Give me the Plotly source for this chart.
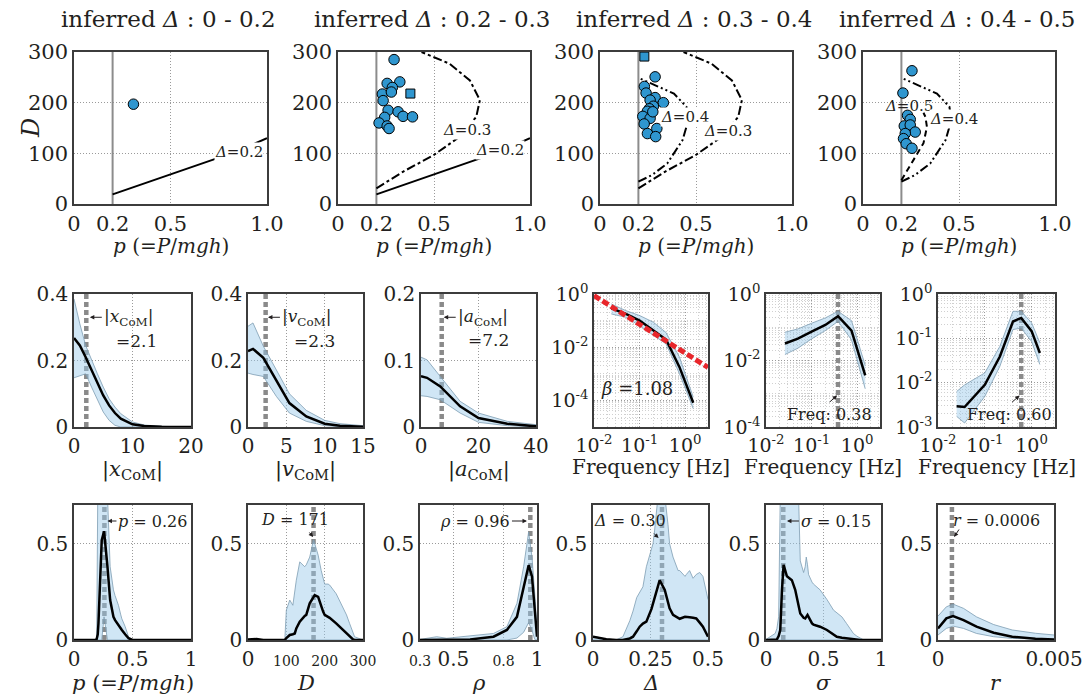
import plotly.graph_objects as go

W, H = 1088, 697
FONT = "DejaVu Serif"
TXT = "#231f20"
FRAME = "#3c3c3c"
GRID = "#9a9a9a"
BLUE = "#2f96cf"
BAND_FILL = "rgba(150,200,232,0.45)"
BAND_LINE = "#7d9db3"
DASHC = "#8a8a8a"

# ---------------- Row 1 data: p vs D scatter per inferred Delta range ----------------
titles = ["0 - 0.2", "0.2 - 0.3", "0.3 - 0.4", "0.4 - 0.5"]
p_min_line = 0.2
s1_p = [0.308]
s1_D = [197]
s2_p = [0.292, 0.256, 0.322, 0.283, 0.231, 0.278, 0.235, 0.261, 0.313, 0.339, 0.388, 0.243, 0.214, 0.256, 0.266]
s2_D = [285, 238, 241, 230, 217, 221, 204, 185, 182, 173, 172, 171, 160, 154, 149]
s2_sq_p = [0.377]
s2_sq_D = [218]
s3_p = [0.287, 0.231, 0.24, 0.287, 0.261, 0.33, 0.278, 0.257, 0.247, 0.223, 0.261, 0.23, 0.296, 0.247, 0.29, 0.275]
s3_D = [251, 232, 219, 210, 205, 200, 193, 188, 183, 173, 169, 158, 149, 139, 133, 182]
s3_sq_p = [0.231]
s3_sq_D = [291]
s4_p = [0.255, 0.208, 0.232, 0.246, 0.215, 0.246, 0.272, 0.22, 0.211, 0.225, 0.255]
s4_D = [263, 219, 175, 167, 154, 156, 142, 139, 129, 119, 110]

# theoretical contours
c02_p = [0.2, 0.3, 0.4, 0.5, 0.6, 0.7, 0.8, 0.9, 1.0]
c02_D = [19, 32, 45, 58, 71, 84, 98, 113, 130]
c03_p = [0.2, 0.34, 0.496, 0.635, 0.72, 0.739, 0.687, 0.58, 0.435]
c03_D = [31, 64, 96, 133, 172, 205, 244, 277, 300]
c04_p = [0.2, 0.27, 0.35, 0.43, 0.46, 0.45, 0.385, 0.3, 0.2]
c04_D = [44, 57, 80, 126, 165, 192, 218, 232, 249]
c05_p = [0.2, 0.263, 0.315, 0.333, 0.325, 0.315]
c05_D = [47, 87, 120, 152, 172, 180]

# ---------------- Row 2 data ----------------
xc_x = [0, 1, 2, 3, 4, 5, 6, 7, 8, 10, 12, 15, 20]
xc_mean = [0.268, 0.245, 0.21, 0.17, 0.13, 0.095, 0.065, 0.042, 0.025, 0.008, 0.003, 0.001, 0]
xc_up = [0.385, 0.31, 0.245, 0.2, 0.16, 0.12, 0.085, 0.06, 0.04, 0.015, 0.006, 0.002, 0]
xc_lo = [0.148, 0.155, 0.16, 0.12, 0.08, 0.045, 0.02, 0.005, 0, 0, 0, 0, 0]
xc_med = 2.1

vc_x = [0, 0.65, 2, 3.7, 5.4, 7.6, 10, 12, 15]
vc_mean = [0.228, 0.235, 0.208, 0.142, 0.072, 0.032, 0.01, 0.004, 0.001]
vc_up = [0.303, 0.313, 0.243, 0.17, 0.1, 0.05, 0.02, 0.01, 0.004]
vc_lo = [0.162, 0.158, 0.152, 0.092, 0.042, 0.017, 0.004, 0.001, 0]
vc_med = 2.3

ac_x = [0, 2.1, 6.7, 13.6, 20, 30, 40]
ac_mean = [0.0762, 0.074, 0.061, 0.031, 0.0135, 0.005, 0.001]
ac_up = [0.105, 0.101, 0.076, 0.0386, 0.021, 0.0085, 0.0035]
ac_lo = [0.047, 0.046, 0.041, 0.021, 0.007, 0.002, 0]
ac_med = 7.2

f1_x = [0.024, 0.05, 0.1, 0.2, 0.38, 0.75, 1.5]
f1_mean = [0.288, 0.178, 0.1, 0.0422, 0.0195, 0.00178, 0.0000813]
f1_up = [0.422, 0.237, 0.155, 0.0871, 0.0355, 0.00422, 0.000133]
f1_lo = [0.178, 0.133, 0.0646, 0.0275, 0.0133, 0.001, 0.000049]
beta = 1.08
fit_x = [0.01, 3.16]
fit_y0 = 0.87

f2_x = [0.026, 0.05, 0.1, 0.2, 0.38, 0.75, 1.5]
f2_mean = [0.0324, 0.0457, 0.0741, 0.117, 0.214, 0.0794, 0.00355]
f2_up = [0.0708, 0.0891, 0.132, 0.191, 0.302, 0.158, 0.00708]
f2_lo = [0.0151, 0.0234, 0.0447, 0.0794, 0.151, 0.0417, 0.00141]
f2_peak = 0.38

f3_x = [0.025, 0.037, 0.1, 0.21, 0.4, 0.6, 1.0, 1.5]
f3_mean = [0.00295, 0.00282, 0.00891, 0.0389, 0.24, 0.288, 0.145, 0.0468]
f3_up = [0.00631, 0.0089, 0.0166, 0.0661, 0.407, 0.407, 0.224, 0.0794]
f3_lo = [0.00174, 0.00123, 0.0049, 0.0234, 0.158, 0.17, 0.0851, 0.0257]
f3_peak = 0.60

# ---------------- Row 3 data: posterior distributions ----------------
pp_x = [0, 0.18, 0.194, 0.203, 0.209, 0.237, 0.257, 0.28, 0.286, 0.309, 0.337, 0.351, 0.38, 0.4, 0.409, 0.437, 0.466, 0.5, 1.0]
pp_mean = [0, 0, 0.005, 0.03, 0.086, 0.517, 0.564, 0.43, 0.38, 0.207, 0.12, 0.103, 0.075, 0.058, 0.052, 0.03, 0.009, 0, 0]
pp_up = [0, 0, 0, 0.75, 0.75, 0.75, 0.75, 0.75, 0.75, 0.38, 0.26, 0.23, 0.18, 0.13, 0.11, 0.07, 0.017, 0, 0]
pp_lo = [0, 0, 0, 0, 0, 0, 0.12, 0, 0, 0, 0, 0, 0, 0, 0, 0, 0, 0, 0]
pp_med = 0.26

dd_x = [0, 22, 40, 96, 100, 109, 117, 122, 126, 135, 148, 152, 161, 171, 174, 183, 191, 196, 200, 209, 213, 230, 248, 257, 265, 274, 278, 300]
dd_mean = [0.003, 0.005, 0, 0, 0.01, 0.026, 0.03, 0.034, 0.06, 0.095, 0.125, 0.13, 0.19, 0.225, 0.233, 0.224, 0.17, 0.147, 0.13, 0.12, 0.115, 0.086, 0.05, 0.034, 0.02, 0.003, 0, 0]
dd_up = [0.003, 0.006, 0, 0, 0.155, 0.207, 0.18, 0.25, 0.31, 0.405, 0.38, 0.39, 0.43, 0.52, 0.5, 0.44, 0.36, 0.32, 0.29, 0.29, 0.285, 0.24, 0.17, 0.13, 0.086, 0.03, 0.017, 0]
dd_lo = [0] * len(dd_x)
dd_med = 171

rh_x = [0.3, 0.4, 0.46, 0.6, 0.74, 0.82, 0.88, 0.92, 0.95, 0.97, 0.984, 0.99, 1.0]
rh_mean = [0, 0.002, 0.002, 0.003, 0.017, 0.052, 0.12, 0.276, 0.388, 0.33, 0.17, 0.1, 0.017]
rh_up = [0.003, 0.017, 0.009, 0.02, 0.034, 0.069, 0.19, 0.38, 0.56, 0.43, 0.28, 0.2, 0.03]
rh_lo = [0, 0, 0, 0, 0, 0, 0.01, 0.04, 0.09, 0.05, 0.01, 0, 0]
rh_med = 0.96

de_x = [0, 0.058, 0.1, 0.13, 0.16, 0.174, 0.19, 0.203, 0.217, 0.232, 0.254, 0.261, 0.268, 0.283, 0.29, 0.312, 0.326, 0.333, 0.348, 0.37, 0.377, 0.4, 0.406, 0.42, 0.435, 0.449, 0.464, 0.478, 0.5]
de_mean = [0.017, 0.004, 0, 0, 0.008, 0.017, 0.045, 0.069, 0.085, 0.095, 0.16, 0.19, 0.23, 0.29, 0.31, 0.26, 0.19, 0.164, 0.13, 0.112, 0.11, 0.12, 0.12, 0.118, 0.115, 0.112, 0.09, 0.069, 0.017]
de_up = [0.02, 0.005, 0, 0.017, 0.1, 0.15, 0.22, 0.25, 0.276, 0.38, 0.466, 0.5, 0.57, 0.75, 0.75, 0.75, 0.6, 0.5, 0.43, 0.36, 0.36, 0.33, 0.34, 0.36, 0.32, 0.34, 0.35, 0.33, 0.21]
de_lo = [0] * len(de_x)
de_med = 0.30

sg_x = [0, 0.04, 0.08, 0.095, 0.11, 0.124, 0.139, 0.153, 0.182, 0.225, 0.254, 0.283, 0.298, 0.327, 0.341, 0.35, 0.361, 0.37, 0.4, 0.413, 0.47, 0.53, 0.587, 0.616, 0.66, 0.7, 0.76, 0.79, 0.82, 0.85, 1.0]
sg_mean = [0, 0, 0, 0.003, 0.02, 0.052, 0.26, 0.39, 0.33, 0.31, 0.26, 0.18, 0.138, 0.115, 0.112, 0.12, 0.13, 0.12, 0.086, 0.08, 0.069, 0.052, 0.03, 0.017, 0.012, 0.009, 0.003, 0, 0, 0, 0]
sg_up = [0.003, 0.017, 0.034, 0.06, 0.12, 0.75, 0.75, 0.75, 0.75, 0.75, 0.75, 0.75, 0.41, 0.35, 0.38, 0.43, 0.39, 0.34, 0.3, 0.29, 0.26, 0.21, 0.155, 0.14, 0.12, 0.086, 0.034, 0.02, 0.009, 0, 0]
sg_lo = [0] * len(sg_x)
sg_med = 0.15

rr_x = [0, 0.00036, 0.00065, 0.0011, 0.00166, 0.0024, 0.0032, 0.0042, 0.005]
rr_mean = [0.06, 0.112, 0.124, 0.103, 0.069, 0.038, 0.017, 0.007, 0.003]
rr_up = [0.124, 0.172, 0.186, 0.164, 0.12, 0.08, 0.052, 0.035, 0.026]
rr_lo = [0.026, 0.06, 0.072, 0.06, 0.034, 0.017, 0.008, 0.004, 0.003]
rr_med = 0.0006

# ---------------- layout helpers ----------------
boxes = {
    1: (74, 267, 52, 204), 2: (338, 530, 52, 204), 3: (600, 792, 52, 204), 4: (863, 1055, 52, 204),
    5: (74, 191, 294, 427), 6: (248, 363, 294, 427), 7: (421, 536, 294, 427),
    8: (594, 708, 294, 427), 9: (766, 880, 294, 427), 10: (938, 1055, 294, 427),
    11: (74, 191, 505, 640), 12: (248, 363, 505, 640), 13: (420, 537, 505, 640),
    14: (593, 708, 505, 640), 15: (766, 881, 505, 640), 16: (938, 1054, 505, 640),
}

fig = go.Figure()


def names(i):
    return ("x" if i == 1 else f"x{i}", "y" if i == 1 else f"y{i}")


def keys(i):
    return ("xaxis" if i == 1 else f"xaxis{i}", "yaxis" if i == 1 else f"yaxis{i}")


def minor_vals(lo, hi):
    vals = []
    for e in range(lo, hi):
        for k in range(1, 10):
            vals.append(k * 10.0 ** e)
    return vals


def setup(i, xr, yr, xtv, xtt, ytv, ytt, xlog=False, ylog=False, tsize=20):
    x0, x1, y0, y1 = boxes[i]
    xn, yn = names(i)
    xk, yk = keys(i)
    common = dict(showline=True, mirror=True, linecolor=FRAME, linewidth=1.5, ticks="",
                  zeroline=False, showgrid=True, gridcolor=GRID, griddash="1px,2px", gridwidth=1,
                  tickfont=dict(family=FONT, size=tsize, color=TXT), fixedrange=True,
                  tickmode="array", automargin=False)
    xd = dict(domain=[x0 / W, x1 / W], range=xr, anchor=yn, tickvals=xtv, ticktext=xtt,
              type="log" if xlog else "linear", **common)
    yd = dict(domain=[1 - y1 / H, 1 - y0 / H], range=yr, anchor=xn, tickvals=ytv, ticktext=ytt,
              type="log" if ylog else "linear", **common)
    if xlog:
        xd["minor"] = dict(tickmode="array", tickvals=minor_vals(int(xr[0]) - 1, int(xr[1]) + 1),
                           showgrid=True, gridcolor="#d0d0d0", griddash="1px,2px", gridwidth=1, ticks="")
    if ylog:
        yd["minor"] = dict(tickmode="array", tickvals=minor_vals(int(yr[0]) - 1, int(yr[1]) + 1),
                           showgrid=True, gridcolor="#d0d0d0", griddash="1px,2px", gridwidth=1, ticks="")
    fig.update_layout(**{xk: xd, yk: yd})


def line(i, x, y, color="black", width=2, dash="solid"):
    xn, yn = names(i)
    fig.add_trace(go.Scatter(x=x, y=y, mode="lines", xaxis=xn, yaxis=yn,
                             line=dict(color=color, width=width, dash=dash), hoverinfo="skip"))


def band(i, x, up, lo, mean):
    xn, yn = names(i)
    fig.add_trace(go.Scatter(x=x, y=up, mode="lines", xaxis=xn, yaxis=yn,
                             line=dict(color=BAND_LINE, width=0.8), hoverinfo="skip"))
    fig.add_trace(go.Scatter(x=x, y=lo, mode="lines", xaxis=xn, yaxis=yn, fill="tonexty",
                             fillcolor=BAND_FILL, line=dict(color=BAND_LINE, width=0.8), hoverinfo="skip"))
    fig.add_trace(go.Scatter(x=x, y=mean, mode="lines", xaxis=xn, yaxis=yn,
                             line=dict(color="black", width=2.5), hoverinfo="skip"))


def vdash(i, xv, y0, y1):
    line(i, [xv, xv], [y0, y1], color=DASHC, width=4.5, dash="5px,3px")


def ann(i, x, y, text, size=17, **kw):
    xn, yn = names(i)
    d = dict(x=x, y=y, xref=xn, yref=yn, text=text, showarrow=False,
             font=dict(family=FONT, size=size, color=TXT))
    d.update(kw)
    fig.add_annotation(**d)


def arrow(i, x, y, text, ax, ay, size=17, **kw):
    ann(i, x, y, text, size=size, showarrow=True, ax=ax, ay=ay, arrowhead=2, arrowsize=0.9,
        arrowwidth=1, arrowcolor=TXT, **kw)


def pann(xp, yp, text, size=22, **kw):
    d = dict(x=xp / W, y=1 - yp / H, xref="paper", yref="paper", text=text, showarrow=False,
             xanchor="center", yanchor="middle",
             font=dict(family=FONT, size=size, color=TXT))
    d.update(kw)
    fig.add_annotation(**d)


# ---------------- Row 1 ----------------
scat = [(s1_p, s1_D, [], []), (s2_p, s2_D, s2_sq_p, s2_sq_D), (s3_p, s3_D, s3_sq_p, s3_sq_D), (s4_p, s4_D, [], [])]
for k in range(4):
    i = k + 1
    setup(i, [0, 1.0], [0, 300], [0, 0.2, 0.5, 1.0], ["0", "0.2", "0.5", "1.0"],
          [0, 100, 200, 300], ["0", "100", "200", "300"], tsize=21)
    line(i, [p_min_line, p_min_line], [0, 300], color="#8c8c8c", width=2)
    if i in (1, 2):
        line(i, c02_p, c02_D, width=2)
    if i in (2, 3):
        line(i, c03_p, c03_D, width=2, dash="dashdot")
    if i in (3, 4):
        line(i, c04_p, c04_D, width=2, dash="9px,3px,2px,3px,2px,3px")
    if i == 4:
        line(i, c05_p, c05_D, width=2, dash="6px,4px")
    xs, ys, sqx, sqy = scat[k]
    xn, yn = names(i)
    fig.add_trace(go.Scatter(x=xs, y=ys, mode="markers", xaxis=xn, yaxis=yn, hoverinfo="skip",
                             marker=dict(symbol="circle", size=10.5, color=BLUE,
                                         line=dict(color="black", width=1))))
    if sqx:
        fig.add_trace(go.Scatter(x=sqx, y=sqy, mode="markers", xaxis=xn, yaxis=yn, hoverinfo="skip",
                                 marker=dict(symbol="square", size=9, color=BLUE,
                                             line=dict(color="black", width=1))))
    x0, x1, y0, y1 = boxes[i]
    pann((x0 + x1) / 2 - 2, 19, f"inferred <i>Δ</i> : {titles[k]}", size=23)
    pann((x0 + x1) / 2, 246, "<i>p</i> (=<i>P</i>/<i>mgh</i>)", size=20)

pann(31, 128, "<i>D</i>", size=24, textangle=-90)

WB = dict(bgcolor="white", borderpad=0)
ann(1, 0.853, 103, "<i>Δ</i>=0.2", size=15, **WB)
ann(2, 0.843, 106, "<i>Δ</i>=0.2", size=15, **WB)
ann(2, 0.67, 146, "<i>Δ</i>=0.3", size=15, **WB)
ann(3, 0.445, 171, "<i>Δ</i>=0.4", size=15, **WB)
ann(3, 0.668, 144, "<i>Δ</i>=0.3", size=15, **WB)
ann(4, 0.24, 194, "<i>Δ</i>=0.5", size=15)
ann(4, 0.472, 167, "<i>Δ</i>=0.4", size=15, **WB)

# ---------------- Row 2 ----------------
setup(5, [0, 20], [0, 0.4], [0, 10, 20], ["0", "10", "20"], [0, 0.2, 0.4], ["0", "0.2", "0.4"])
vdash(5, xc_med, 0, 0.4)
band(5, xc_x, xc_up, xc_lo, xc_mean)
arrow(5, 2.7, 0.33, "|<i>x</i><sub>CoM</sub>|", 12, 0, xanchor="left")
ann(5, 10.7, 0.258, f"={xc_med}")

setup(6, [0, 15], [0, 0.4], [0, 5, 10, 15], ["0", "5", "10", "15"], [0, 0.2, 0.4], ["0", "0.2", "0.4"])
vdash(6, vc_med, 0, 0.4)
band(6, vc_x, vc_up, vc_lo, vc_mean)
arrow(6, 2.6, 0.33, "|<i>v</i><sub>CoM</sub>|", 12, 0, xanchor="left")
ann(6, 8.7, 0.258, f"={vc_med}")

setup(7, [0, 40], [0, 0.2], [0, 20, 40], ["0", "20", "40"], [0, 0.1, 0.2], ["0", "0.1", "0.2"])
vdash(7, ac_med, 0, 0.2)
band(7, ac_x, ac_up, ac_lo, ac_mean)
arrow(7, 7.9, 0.165, "|<i>a</i><sub>CoM</sub>|", 12, 0, xanchor="left")
ann(7, 23.5, 0.131, f"={ac_med}")

xt_log = [0.01, 0.1, 1]
xt_logt = ["10<sup>-2</sup>", "10<sup>-1</sup>", "10<sup>0</sup>"]
setup(8, [-2, 0.5], [-5, 0], xt_log, xt_logt, [1e-4, 1e-2, 1], ["10<sup>-4</sup>", "10<sup>-2</sup>", "10<sup>0</sup>"],
      xlog=True, ylog=True, tsize=19)
band(8, f1_x, f1_up, f1_lo, f1_mean)
fit_y = [fit_y0 * (fx / fit_x[0]) ** (-beta) for fx in fit_x]
line(8, fit_x, fit_y, color="#e8262b", width=5, dash="7px,3px")
ann(8, -1.9, -3.54, f"<i>β</i> ={beta}", size=18, xanchor="left")

setup(9, [-2, 0.5], [-4, 0], xt_log, xt_logt, [1e-4, 1e-2, 1], ["10<sup>-4</sup>", "10<sup>-2</sup>", "10<sup>0</sup>"],
      xlog=True, ylog=True, tsize=19)
vdash(9, f2_peak, 1e-4, 1)
band(9, f2_x, f2_up, f2_lo, f2_mean)
ann(9, -0.6, -3.62, f"Freq: {f2_peak:.2f}", size=16)
arrow(9, -0.44, -3.05, "", -9, 8)

setup(10, [-2, 0.5], [-3, 0], xt_log, xt_logt, [1e-3, 1e-2, 1e-1, 1],
      ["10<sup>-3</sup>", "10<sup>-2</sup>", "10<sup>-1</sup>", "10<sup>0</sup>"], xlog=True, ylog=True, tsize=19)
vdash(10, f3_peak, 1e-3, 1)
band(10, f3_x, f3_up, f3_lo, f3_mean)
ann(10, -0.47, -2.72, f"Freq: {f3_peak:.2f}", size=16)
arrow(10, -0.257, -2.29, "", -9, 8)

for i, t in [(5, "|<i>x</i><sub>CoM</sub>|"), (6, "|<i>v</i><sub>CoM</sub>|"), (7, "|<i>a</i><sub>CoM</sub>|"),
             (8, "Frequency [Hz]"), (9, "Frequency [Hz]"), (10, "Frequency [Hz]")]:
    x0, x1, y0, y1 = boxes[i]
    pann((x0 + x1) / 2, 470 if i < 8 else 467, t, size=21 if i < 8 else 20)

# ---------------- Row 3 ----------------
yt3 = [0, 0.5]
yt3t = ["0", "0.5"]
small = "<span style='font-size:14px'>%s</span>"

setup(11, [0, 1], [0, 0.7], [0, 0.5, 1], ["0", "0.5", "1"], yt3, yt3t)
vdash(11, pp_med, 0, 0.7)
band(11, pp_x, pp_up, pp_lo, pp_mean)
arrow(11, 0.286, 0.617, f"<i>p</i> = {pp_med}", 9, 0, size=16, xanchor="left")

setup(12, [0, 300], [0, 0.7], [0, 100, 200, 300], ["0", small % "100", small % "200", small % "300"], yt3, yt3t)
vdash(12, dd_med, 0, 0.7)
band(12, dd_x, dd_up, dd_lo, dd_mean)
ann(12, 122, 0.625, f"<i>D</i> = {dd_med}", size=16)
arrow(12, 170, 0.534, "", -5, -6)

setup(13, [0.3, 1.0], [0, 0.7], [0.3, 0.5, 0.8, 1.0], [small % "0.3", "0.5", small % "0.8", "1"], yt3, yt3t)
vdash(13, rh_med, 0, 0.7)
band(13, rh_x, rh_up, rh_lo, rh_mean)
arrow(13, 0.94, 0.617, f"<i>ρ</i> = {rh_med}", -15, 0, size=16, xanchor="right")

setup(14, [0, 0.5], [0, 0.7], [0, 0.25, 0.5], ["0", "0.25", "0.5"], yt3, yt3t)
vdash(14, de_med, 0, 0.7)
band(14, de_x, de_up, de_lo, de_mean)
ann(14, 0.159, 0.622, f"<i>Δ</i> = {de_med:.2f}", size=16)
arrow(14, 0.285, 0.529, "", -6, -6)

setup(15, [0, 1], [0, 0.7], [0, 0.5, 1], ["0", "0.5", "1"], yt3, yt3t)
vdash(15, sg_med, 0, 0.7)
band(15, sg_x, sg_up, sg_lo, sg_mean)
arrow(15, 0.182, 0.617, f"<i>σ</i> = {sg_med}", 12, 0, size=16, xanchor="left")

setup(16, [0, 0.005], [0, 0.7], [0, 0.005], ["0", "0.005"], yt3, yt3t)
vdash(16, rr_med, 0, 0.7)
band(16, rr_x, rr_up, rr_lo, rr_mean)
ann(16, 0.00252, 0.622, f"<i>r</i> = {rr_med}", size=16)
arrow(16, 0.00069, 0.534, "", 6, -9)

for i, t in [(11, "<i>p</i> (=<i>P</i>/<i>mgh</i>)"), (12, "<i>D</i>"), (13, "<i>ρ</i>"), (14, "<i>Δ</i>"),
             (15, "<i>σ</i>"), (16, "<i>r</i>")]:
    x0, x1, y0, y1 = boxes[i]
    pann((x0 + x1) / 2, 683, t, size=21)

fig.update_layout(width=W, height=H, autosize=False, margin=dict(l=0, r=0, t=0, b=0, pad=0),
                  paper_bgcolor="white", plot_bgcolor="white", showlegend=False,
                  font=dict(family=FONT, size=20, color=TXT))

fig.write_html("out.html")
